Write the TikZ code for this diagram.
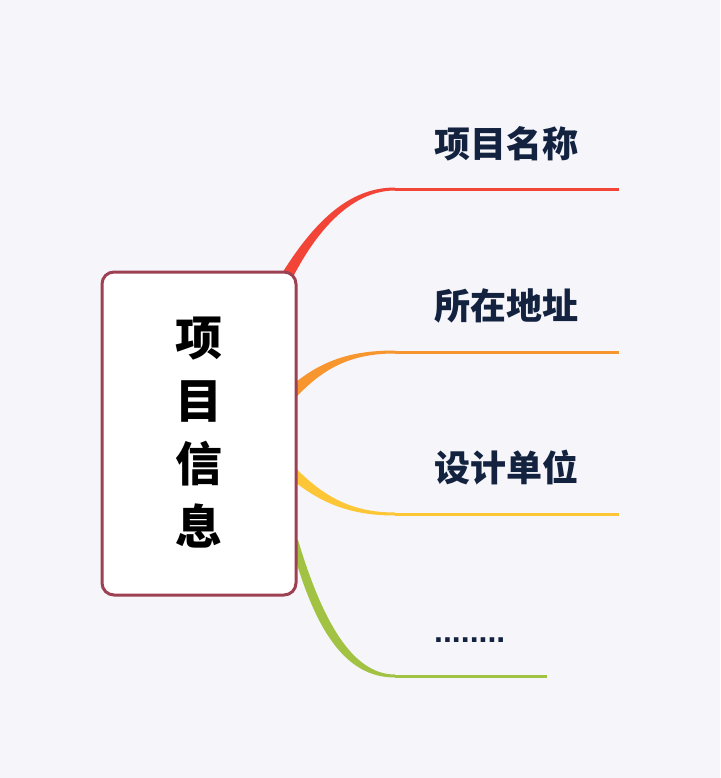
\documentclass[tikz,border=0pt]{standalone}
\usepackage{fontspec}
\newfontfamily\cjk{Noto Sans CJK SC}
\newfontfamily\dotfont{Liberation Sans}
\definecolor{bgc}{HTML}{F5F5FA}
\definecolor{boxc}{HTML}{9C4052}
\definecolor{txtc}{HTML}{13223F}
\definecolor{cred}{HTML}{F24437}
\definecolor{corange}{HTML}{F7952F}
\definecolor{cyellow}{HTML}{FDC636}
\definecolor{cgreen}{HTML}{A2C243}
\begin{document}
\begin{tikzpicture}[x=1pt,y=-1pt,
  rootbox/.style={draw=boxc,line width=3pt,fill=white,rounded corners=12pt,minimum width=194pt,minimum height=323pt,inner sep=0pt},
  roottext/.style={font=\cjk\bfseries\fontsize{47}{63}\selectfont,align=center,inner sep=0pt,text=black},
  leaf/.style={font=\cjk\bfseries\fontsize{36}{40}\selectfont,text=txtc,inner sep=0pt,anchor=west},
  hline/.style={line width=3pt}]
\fill[bgc] (0,0) rectangle (720,778);
\useasboundingbox (0,0) rectangle (720,778);
% tapered branches
\fill[cred] (275,285) .. controls (313,220) and (350,187.5) .. (395,187.5) -- (395,190.5) .. controls (355,190.5) and (318,225) .. (289,285) -- cycle;
\fill[corange] (290,387) .. controls (320,361) and (350,350.5) .. (395,350.5) -- (395,353.5) .. controls (352,353.5) and (322,367) .. (290,404) -- cycle;
\fill[cyellow] (290,462) .. controls (322,497) and (352,512.5) .. (395,512.5) -- (395,515.5) .. controls (350,515.5) and (320,503) .. (290,478) -- cycle;
\fill[cgreen] (290,540) .. controls (314,630) and (345,677.5) .. (395,677.5) -- (395,674.5) .. controls (352,674.5) and (322,620) .. (298,540) -- cycle;
% root
\node[rootbox] (root) at (199,433.5) {};
\node[roottext] (roottxt) at (199,432.5) {项\\目\\信\\息};
% branch ends
\coordinate (r0) at (395,189); \coordinate (r1) at (619,189);
\coordinate (o0) at (395,352); \coordinate (o1) at (619,352);
\coordinate (y0) at (395,514); \coordinate (y1) at (619,514);
\coordinate (g0) at (395,676); \coordinate (g1) at (547,676);
\draw[hline,cred] (r0) -- (r1);
\draw[hline,corange] (o0) -- (o1);
\draw[hline,cyellow] (y0) -- (y1);
\draw[hline,cgreen] (g0) -- (g1);
% labels
\node[leaf] (l1) at (434,144) {项目名称};
\node[leaf] (l2) at (434,306) {所在地址};
\node[leaf] (l3) at (434,468) {设计单位};
\node[leaf,font=\dotfont\bfseries\fontsize{32}{40}\selectfont,anchor=base west] (l4) at (434,642) {........};
\end{tikzpicture}
\end{document}
